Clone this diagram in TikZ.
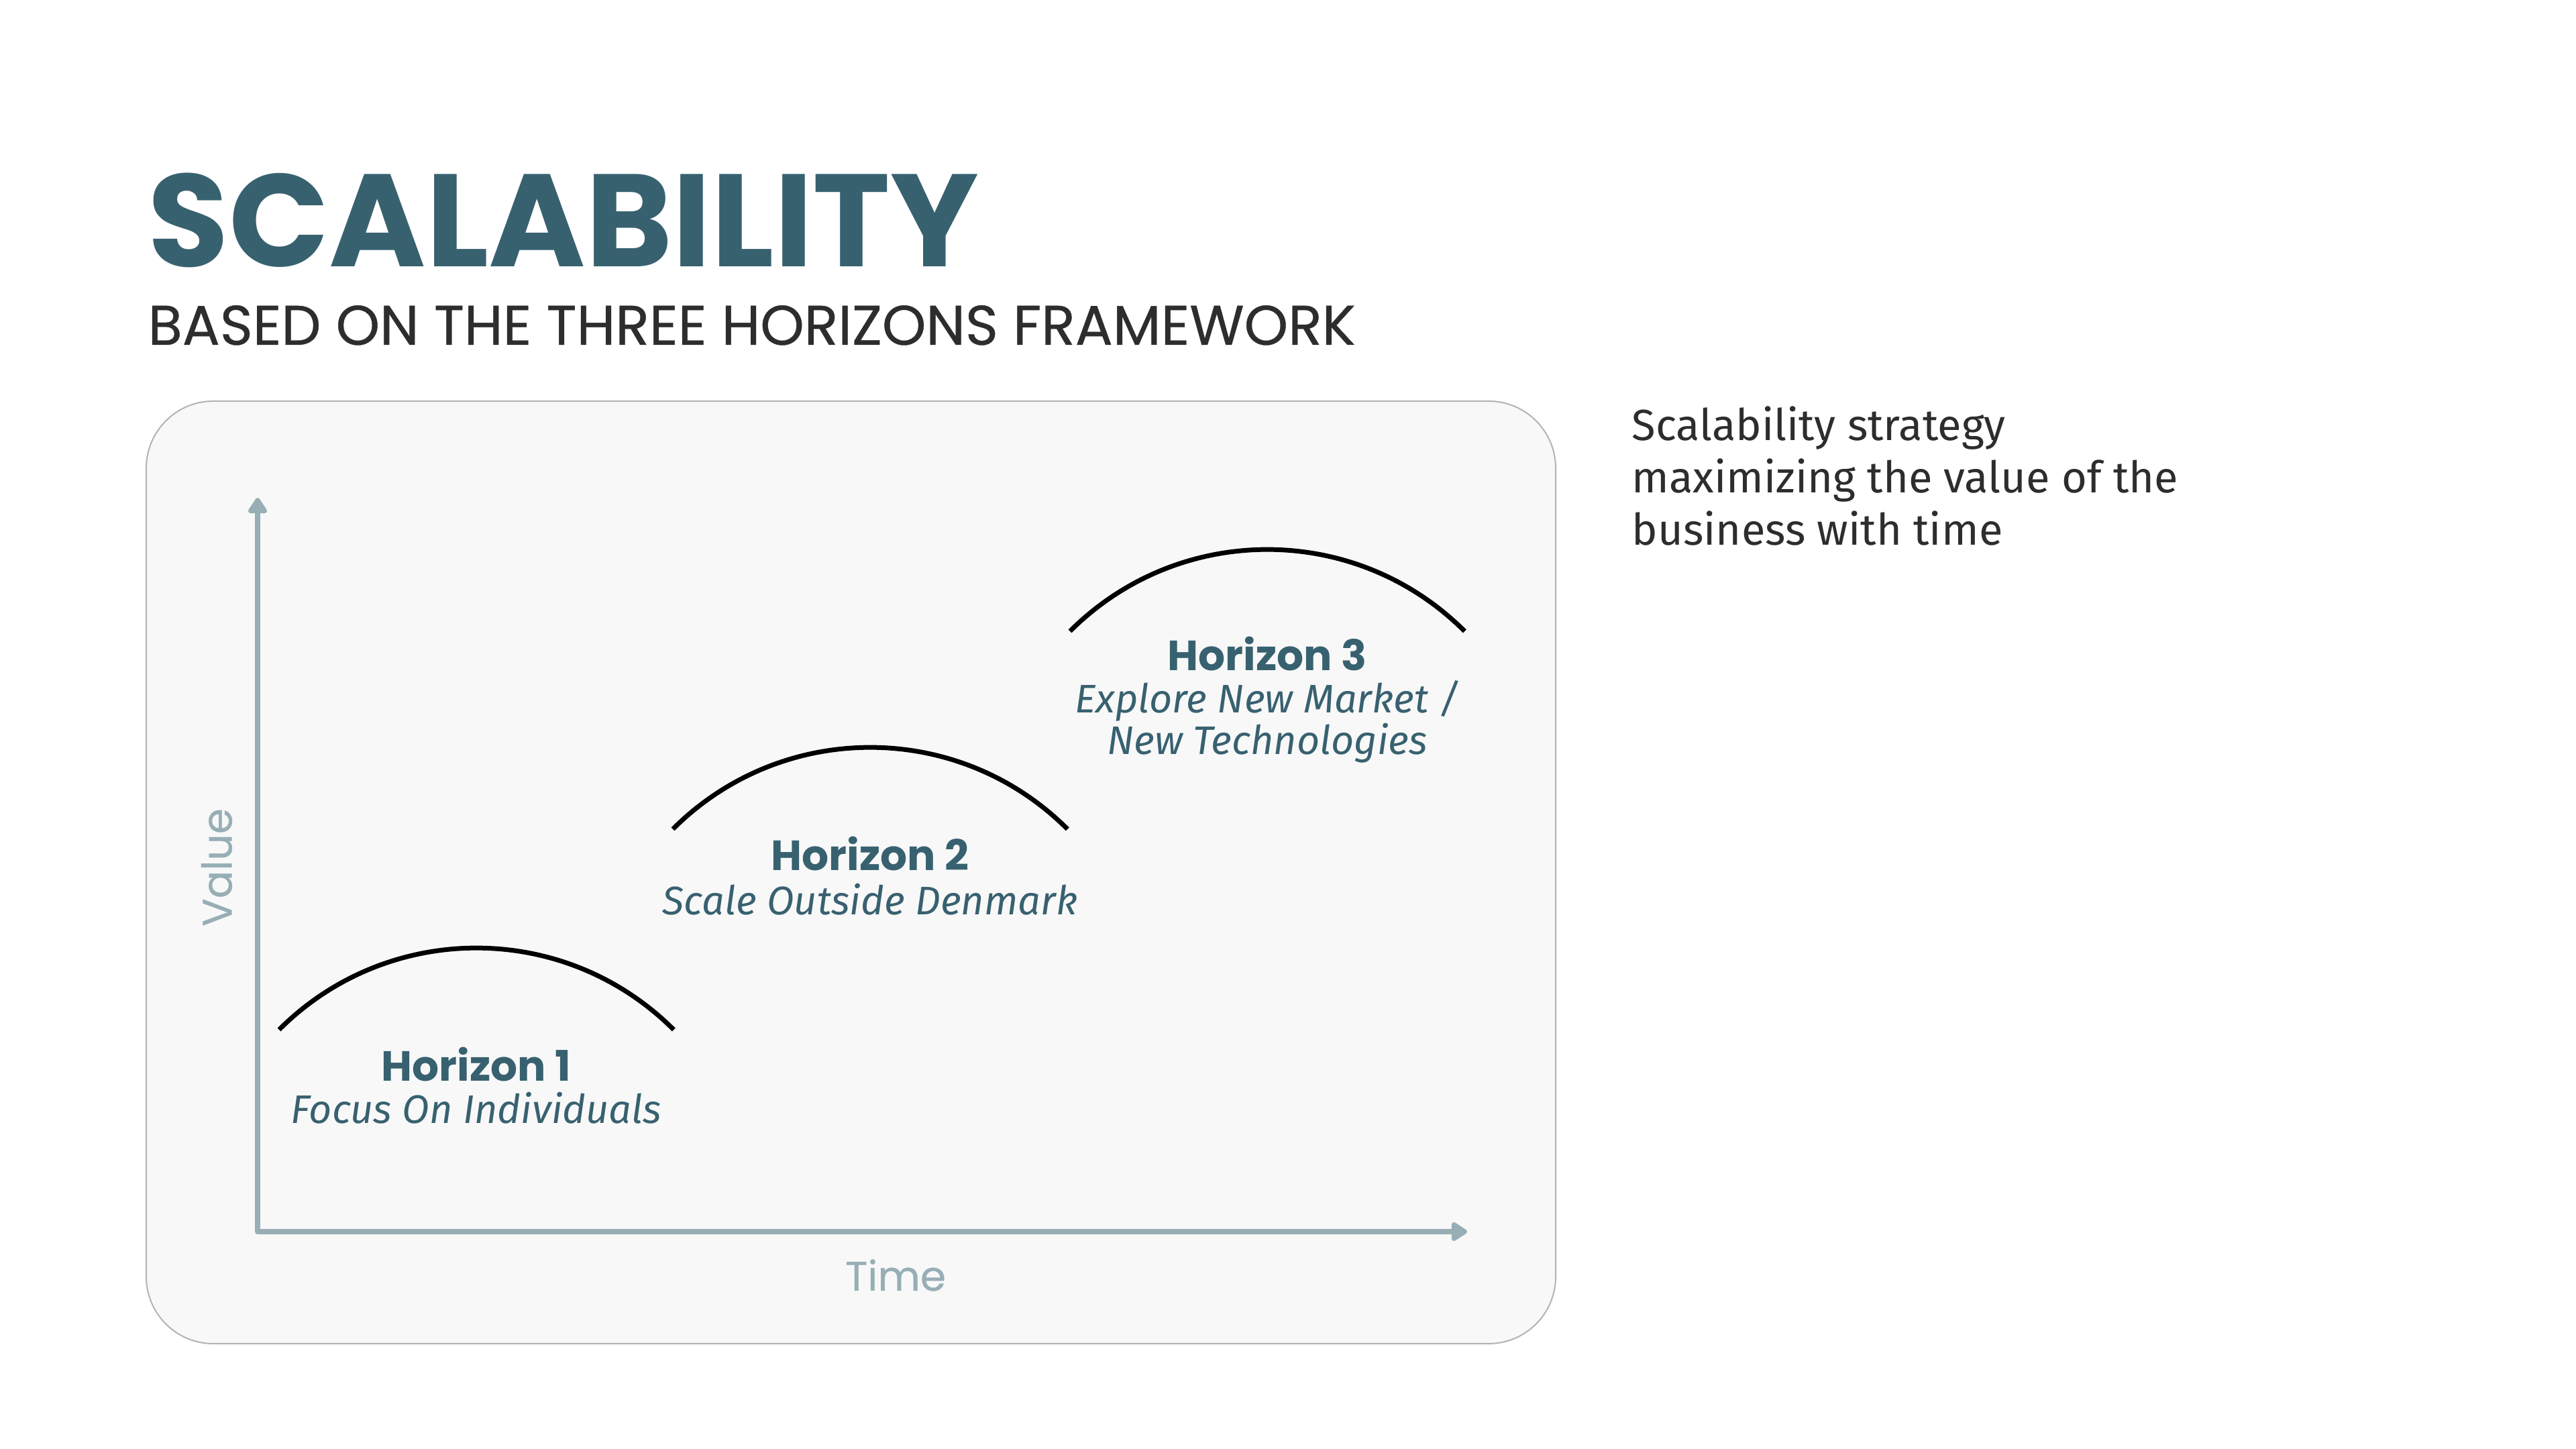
\documentclass[tikz,border=0pt]{standalone}
\usepackage{fontspec}
\setmainfont{Fira Sans}
\newfontfamily\headfont{Poppins}
\newfontfamily\headmedium[FakeBold=0.5]{Poppins}
\usetikzlibrary{arrows.meta,positioning}
\definecolor{headteal}{HTML}{386170}
\definecolor{axisgray}{HTML}{97AEB5}
\definecolor{boxfill}{HTML}{F8F8F8}
\definecolor{boxline}{HTML}{B3B3B3}
\definecolor{darktext}{HTML}{2D2D2D}
\begin{document}
\begin{tikzpicture}
	\tikzstyle{axis} = [draw=axisgray, line width=0.08cm, line join=round, {Triangle[width=0.32cm,length=0.26cm,round]}-{Triangle[width=0.32cm,length=0.26cm,round]}];
	\tikzstyle{hump} = [draw=black, line width=0.07cm];
	\tikzstyle{hname} = [font=\headfont\bfseries\fontsize{17.9}{17.9}\selectfont, text=headteal, anchor=base, inner sep=0];
	\tikzstyle{hgoal} = [font=\itshape\fontsize{16.9}{16.5}\selectfont, text=headteal, align=center, anchor=base, inner sep=0];
	\tikzstyle{axlabel} = [font=\headmedium\fontsize{17.5}{17.5}\selectfont, text=axisgray, inner sep=0];

	\useasboundingbox (0,0) rectangle (38.4,21.6);
	\fill[white] (0,0) rectangle (38.4,21.6);

	\node[anchor=base west, inner sep=0, text depth=0pt, text=headteal, font=\headfont\bfseries\fontsize{55.8}{55.8}\selectfont] (title) at (2.2,17.62) {SCALABILITY};
	\node[anchor=base west, inner sep=0, text height=0.6cm, text=darktext, font=\headmedium\fontsize{23.7}{23.7}\selectfont] (subtitle) at (2.2,16.46) {BASED ON THE THREE HORIZONS FRAMEWORK};

	\draw[draw=boxline, fill=boxfill, line width=0.02cm, rounded corners=1cm] (2.18,1.57) rectangle (23.19,15.62);

	\coordinate (origin) at (3.84,3.24);
	\coordinate (ytop) at (3.84,14.18);
	\coordinate (xend) at (21.87,3.24);
	\draw[axis] (ytop) -- (origin) -- (xend);
	\node[axlabel, rotate=90] (value) at (3.23,8.67) {Value};
	\node[axlabel, anchor=base] (time) at (13.35,2.36) {Time};

	\draw[hump] (4.16,6.25) arc[start angle=135, end angle=45, radius=4.16];
	\draw[hump] (10.03,9.24) arc[start angle=135, end angle=45, radius=4.16];
	\draw[hump] (15.95,12.19) arc[start angle=135, end angle=45, radius=4.16];

	\node[hname] (h1name) at (7.10,5.48) {Horizon 1};
	\node[hgoal] (h1goal) at (7.10,4.85) {Focus On Individuals};
	\node[hname] (h2name) at (12.97,8.62) {Horizon 2};
	\node[hgoal] (h2goal) at (12.97,7.96) {Scale Outside Denmark};
	\node[hname] (h3name) at (18.89,11.60) {Horizon 3};
	\node[hgoal] (h3goal) at (18.89,10.35) {Explore New Market /\\New Technologies};

	\node[anchor=base west, align=left, inner sep=0, text=darktext, font=\fontsize{18.5}{22.2}\selectfont] (note) at (24.32,13.47) {Scalability strategy\\maximizing the value of the\\business with time};
\end{tikzpicture}
\end{document}
